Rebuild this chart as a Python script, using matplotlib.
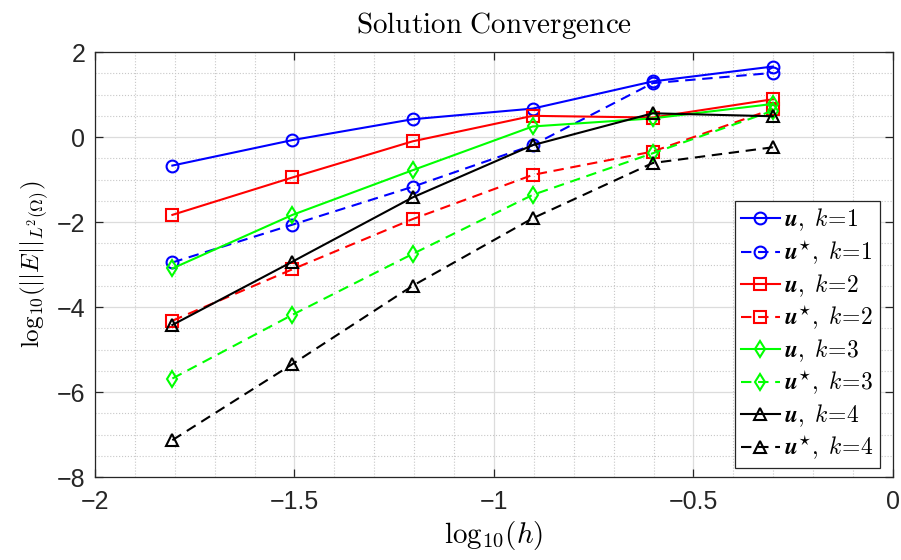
"""Solution convergence plot: log10 of L2 error vs log10 of mesh size."""

import matplotlib

matplotlib.use("Agg")
import matplotlib.pyplot as plt
from matplotlib.ticker import FuncFormatter, MultipleLocator

plt.rcParams["mathtext.fontset"] = "cm"
plt.rcParams["font.family"] = ["Liberation Sans", "DejaVu Sans"]

# ── Data ──────────────────────────────────────────────────────────────────────
log_h = [-1.806, -1.505, -1.204, -0.903, -0.602, -0.301]

u_k1 = [-0.67, -0.07, 0.42, 0.67, 1.31, 1.66]
ustar_k1 = [-2.95, -2.06, -1.17, -0.19, 1.27, 1.51]
u_k2 = [-1.83, -0.95, -0.10, 0.50, 0.46, 0.89]
ustar_k2 = [-4.32, -3.11, -1.93, -0.89, -0.34, 0.66]
u_k3 = [-3.09, -1.83, -0.78, 0.25, 0.44, 0.78]
ustar_k3 = [-5.68, -4.18, -2.75, -1.36, -0.38, 0.62]
u_k4 = [-4.42, -2.93, -1.42, -0.19, 0.56, 0.49]
ustar_k4 = [-7.13, -5.34, -3.50, -1.91, -0.61, -0.24]

series = [
    (u_k1, r"$\boldsymbol{u},\ k\!=\!1$", "b", "-", "o"),
    (ustar_k1, r"$\boldsymbol{u}^{\star},\ k\!=\!1$", "b", "--", "o"),
    (u_k2, r"$\boldsymbol{u},\ k\!=\!2$", "r", "-", "s"),
    (ustar_k2, r"$\boldsymbol{u}^{\star},\ k\!=\!2$", "r", "--", "s"),
    (u_k3, r"$\boldsymbol{u},\ k\!=\!3$", "#00ff00", "-", "d"),
    (ustar_k3, r"$\boldsymbol{u}^{\star},\ k\!=\!3$", "#00ff00", "--", "d"),
    (u_k4, r"$\boldsymbol{u},\ k\!=\!4$", "k", "-", "^"),
    (ustar_k4, r"$\boldsymbol{u}^{\star},\ k\!=\!4$", "k", "--", "^"),
]


def _fmt(v, _pos):
    return f"{v:g}".replace("-", "\u2212")


fig = plt.figure(figsize=(9.01, 5.6), dpi=100)
ax = fig.add_axes([0.1054, 0.148, 0.8857, 0.759])

for vals, label, color, ls, marker in series:
    line, = ax.plot(
        log_h,
        vals,
        color=color,
        ls=ls,
        lw=1.5,
        marker=marker,
        ms=8.5,
        mfc="none",
        mew=1.5,
        label=label,
    )
    if ls == "--":
        line.set_dashes([5, 3.2])

ax.set_xlim(-2, 0)
ax.set_ylim(-8, 2)
ax.xaxis.set_major_locator(MultipleLocator(0.5))
ax.xaxis.set_minor_locator(MultipleLocator(0.1))
ax.yaxis.set_major_locator(MultipleLocator(2))
ax.yaxis.set_minor_locator(MultipleLocator(0.5))
ax.xaxis.set_major_formatter(FuncFormatter(_fmt))
ax.yaxis.set_major_formatter(FuncFormatter(_fmt))

ax.grid(True, which="major", color="#dcdcdc", lw=0.9)
ax.grid(True, which="minor", color="#c8c8c8", lw=0.8, ls=":")
ax.set_axisbelow(True)
ax.tick_params(
    which="both", direction="in", top=True, right=True,
    labelsize=18, colors="#262626",
)
ax.tick_params(axis="x", pad=9)
ax.tick_params(axis="y", pad=7)
ax.tick_params(which="major", length=6, width=0.9)
ax.tick_params(which="minor", length=0)
for sp in ax.spines.values():
    sp.set_color("#262626")
    sp.set_linewidth(0.9)

ax.set_xlabel(r"$\mathrm{log}_{10}(h)$", fontsize=21, labelpad=4)
ax.set_ylabel(r"$\mathrm{log}_{10}(||E||_{L^2(\Omega)})$", fontsize=18, labelpad=4)
ax.set_title(r"$\mathrm{Solution\ Convergence}$", fontsize=21, pad=14)

leg = ax.legend(
    loc="lower right",
    bbox_to_anchor=(0.984, 0.021),
    fontsize=17,
    frameon=True,
    fancybox=False,
    edgecolor="#262626",
    framealpha=1,
    handlelength=1.65,
    handletextpad=0.2,
    borderpad=0.25,
    labelspacing=0.22,
    borderaxespad=0,
)
leg.get_frame().set_linewidth(0.9)

fig.savefig("out.png", dpi=100)
plt.close(fig)
